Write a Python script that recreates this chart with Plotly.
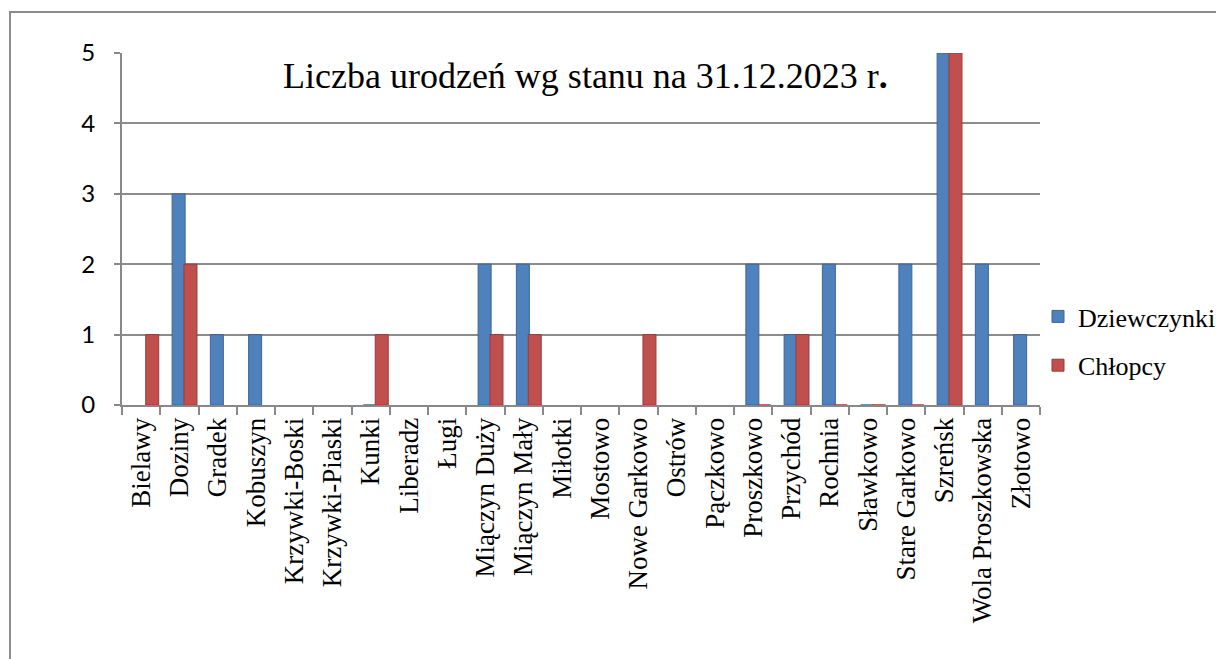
import plotly.graph_objects as go

categories = ["Bielawy", "Doziny", "Gradek", "Kobuszyn", "Krzywki-Boski", "Krzywki-Piaski",
              "Kunki", "Liberadz", "Ługi", "Miączyn Duży", "Miączyn Mały", "Miłotki",
              "Mostowo", "Nowe Garkowo", "Ostrów", "Pączkowo", "Proszkowo", "Przychód",
              "Rochnia", "Sławkowo", "Stare Garkowo", "Szreńsk", "Wola Proszkowska", "Złotowo"]
dziewczynki = [None, 3, 1, 1, None, None, 0, None, None, 2, 2, None,
               None, None, None, None, 2, 1, 2, 0, 2, 5, 2, 1]
chlopcy = [1, 2, None, None, None, None, 1, None, None, 1, 1, None,
           None, 1, None, None, 0, 1, 0, 0, 0, 5, None, None]
y_ticks = [0, 1, 2, 3, 4, 5]
title_text = "Liczba urodzeń wg stanu na 31.12.2023 r<b>.</b>"

OFF = 8  # page body margin
W, H = 1224 - OFF, 659 - OFF
L, R = 122, 1040
T, B = 53, 405

def px_x(p):
    return (p - L) / (R - L)

def px_y(p):
    return (B - p) / (B - T)

serif = "Liberation Serif, Times New Roman, serif"

fig = go.Figure()
fig.add_trace(go.Bar(
    x=categories, y=dziewczynki, name="Dziewczynki",
    marker=dict(color="#4F81BD", line=dict(color="#3A6699", width=1)),
    width=0.34, offset=-0.19, legendgroup="a",
))
fig.add_trace(go.Bar(
    x=categories, y=chlopcy, name="Chłopcy",
    marker=dict(color="#C0504D", line=dict(color="#9A3B39", width=1)),
    width=0.34, offset=0.12, legendgroup="b",
))

fig.update_layout(
    width=W, height=H, autosize=False,
    margin=dict(l=L - OFF, r=1224 - R, t=T - OFF, b=659 - B, pad=0, autoexpand=False),
    paper_bgcolor="white", plot_bgcolor="white",
    barmode="overlay",
    showlegend=True,
    legend=dict(
        x=px_x(1038), y=px_y(341), xanchor="left", yanchor="middle",
        font=dict(family=serif, size=26, color="black"),
        tracegroupgap=12, traceorder="grouped", itemwidth=30,
        bgcolor="rgba(0,0,0,0)",
    ),
    xaxis=dict(
        type="category", tickson="boundaries", ticks="outside", ticklen=8,
        tickcolor="#888888", tickwidth=2,
        showline=True, linecolor="#888888", linewidth=2,
        showgrid=False, tickangle=-90,
        range=[-0.5, len(categories) - 0.5],
        tickfont=dict(family=serif, size=27, color="black"),
    ),
    yaxis=dict(
        range=[0, 5], tickvals=y_ticks, ticks="outside", ticklen=6,
        tickcolor="#888888", tickwidth=2,
        showline=True, linecolor="#888888", linewidth=2,
        showgrid=True, gridcolor="#8C8C8C", gridwidth=2,
        zeroline=False,
        tickfont=dict(family="Lato, Carlito, Calibri, sans-serif", size=24, color="black"),
        ticklabelstandoff=14,
    ),
    annotations=[dict(
        text=title_text, x=px_x(585), y=px_y(76), xref="paper", yref="paper",
        xanchor="center", yanchor="middle", showarrow=False,
        font=dict(family=serif, size=36, color="black"),
    )],
    shapes=[dict(
        type="rect", xref="paper", yref="paper",
        x0=px_x(10), x1=px_x(1240), y0=px_y(12), y1=px_y(700),
        line=dict(color="#8C8C8C", width=2), fillcolor="rgba(0,0,0,0)", layer="below",
    )],
)

fig.write_html("out.html")
